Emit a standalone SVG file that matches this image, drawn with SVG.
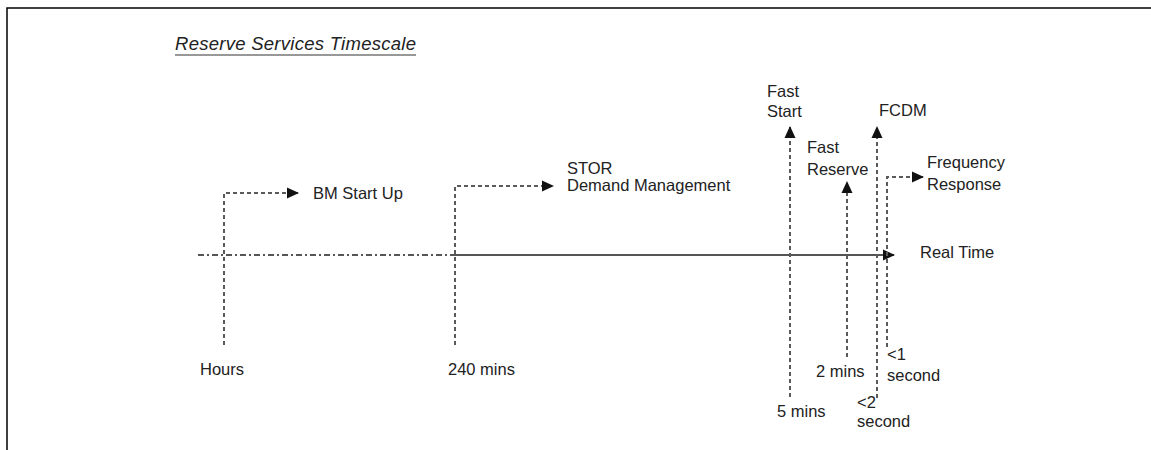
<svg xmlns="http://www.w3.org/2000/svg" width="1151" height="450" viewBox="0 0 1151 450">
<style>
text{font-family:"Liberation Sans",Arial,sans-serif;font-size:16.5px;fill:#222}
.dash{fill:none;stroke:#5a5a5a;stroke-width:2;stroke-dasharray:4 3}
.axis{fill:none;stroke:#555;stroke-width:2.2}
</style>
<defs>
<marker id="ah" markerWidth="12" markerHeight="12" refX="11" refY="6" orient="auto" markerUnits="userSpaceOnUse">
<path d="M0,0.5 L12,6 L0,11.5 z" fill="#111"/>
</marker>
</defs>
<rect width="1151" height="450" fill="#fff"/>
<path d="M7,450 V8 H1151" fill="none" stroke="#000" stroke-width="1.5"/>
<g id="title">
<text x="175" y="50" style="font-style:italic;font-size:18.5px" textLength="241">Reserve Services Timescale</text>
<line x1="175" y1="55" x2="416" y2="55" stroke="#333" stroke-width="1.2"/>
</g>
<g id="connectors">
<path class="axis" d="M198,255 H455" stroke-dasharray="6 3 2 3"/>
<path class="axis" d="M455,255 H894" marker-end="url(#ah)"/>
<path class="dash" d="M224,345 V193 H298" marker-end="url(#ah)"/>
<path class="dash" d="M455,345 V186 H553" marker-end="url(#ah)"/>
<path class="dash" d="M790,397 V127" marker-end="url(#ah)"/>
<path class="dash" d="M847,357 V182" marker-end="url(#ah)"/>
<path class="dash" d="M877,398 V127" marker-end="url(#ah)"/>
<path class="dash" d="M887,347 V177 H923" marker-end="url(#ah)"/>
</g>
<g id="n-bm"><text x="313" y="199">BM Start Up</text><text x="200" y="375">Hours</text></g>
<g id="n-stor"><text x="567" y="174">STOR</text><text x="567" y="191">Demand Management</text><text x="448" y="375">240 mins</text></g>
<g id="n-faststart"><text x="767" y="97">Fast</text><text x="767" y="117">Start</text><text x="777" y="417">5 mins</text></g>
<g id="n-fastreserve"><text x="807" y="153">Fast</text><text x="807" y="175">Reserve</text><text x="816" y="377">2 mins</text></g>
<g id="n-fcdm"><text x="879" y="116">FCDM</text><text x="857" y="408">&lt;2</text><text x="857" y="427">second</text></g>
<g id="n-freq"><text x="927" y="168">Frequency</text><text x="927" y="190">Response</text><text x="887" y="360">&lt;1</text><text x="887" y="381">second</text></g>
<g id="n-rt"><text x="920" y="258">Real Time</text></g>
</svg>
